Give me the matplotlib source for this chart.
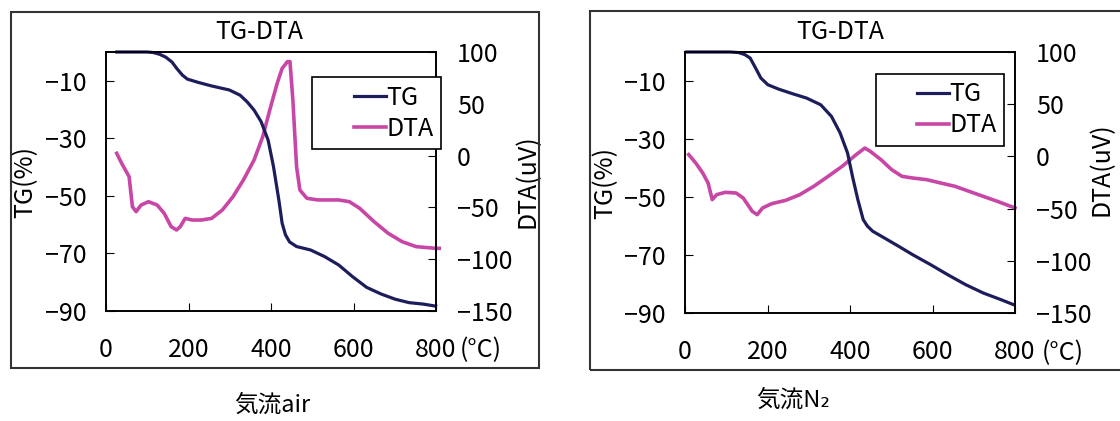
import matplotlib
matplotlib.use("Agg")
import matplotlib.pyplot as plt
from matplotlib.patches import Rectangle
from matplotlib.legend_handler import HandlerLine2D

plt.rcParams['font.family'] = ['Noto Sans CJK JP', 'DejaVu Sans']

# air
air_tg_x = [26, 60, 100, 115, 130, 145, 160, 172, 185, 197, 222, 256, 299, 325, 342, 359, 376,
            393, 406, 419, 427, 435, 445, 462, 496, 530, 564, 598, 632, 667, 701, 735, 769, 799]
air_tg_y = [0, 0, 0, -0.2, -0.8, -1.8, -3.5, -5.8, -8.0, -9.4, -10.5, -11.8, -13.2, -15, -17.3,
            -20.2, -24.2, -30.6, -39.8, -51.4, -59.5, -63.5, -66.0, -67.6, -68.8, -71.1, -74,
            -78.1, -81.8, -84.1, -85.9, -87.1, -87.6, -88.3]
air_dta_x = [26, 38, 56, 64, 73, 85, 103, 124, 141, 158, 171, 180, 192, 209, 231, 256, 282,
             308, 333, 359, 380, 397, 415, 427, 440, 446, 453, 462, 470, 487, 513, 564, 590,
             615, 650, 684, 718, 752, 799, 808]
air_dta_y = [2.2, -7.5, -20.3, -49.3, -54.1, -47.7, -44.5, -47.7, -55.7, -68.6, -71.8, -68.6,
             -60.6, -62.2, -62.2, -60.6, -52.5, -39.6, -23.6, -4.2, 18.3, 44, 69.8, 84.2,
             90.7, 90.7, 53.7, -10.7, -33.2, -41.2, -42.8, -42.8, -44.5, -50.9, -63.8, -75,
             -83.1, -87.9, -89.5, -89.5]

# N2
n2_tg_x = [4, 60, 110, 130, 145, 158, 171, 184, 201, 227, 261, 295, 329, 355, 376, 394, 406,
           419, 432, 442, 455, 483, 518, 552, 595, 637, 680, 723, 766, 796]
n2_tg_y = [0, 0, 0, -0.2, -0.9, -2.1, -5.5, -9, -11.3, -12.8, -14.4, -15.9, -18.2, -22.2,
           -27.9, -34.8, -42.9, -50.9, -57.8, -60.0, -61.8, -64.1, -67, -69.9, -73.3, -76.8,
           -80.2, -83.1, -85.4, -87.1]
n2_dta_x = [9, 26, 43, 56, 66, 77, 98, 124, 141, 163, 175, 188, 210, 244, 278, 312, 347, 381,
            415, 436, 449, 475, 501, 526, 552, 586, 620, 655, 689, 723, 757, 800]
n2_dta_y = [1.7, -6.3, -15.9, -25.5, -41.4, -36.6, -34.4, -35.1, -39.8, -52.6, -55.8, -49.4,
            -45.3, -42.1, -36.7, -28.7, -19.1, -9.5, 1.7, 8.0, 4.9, -3.1, -12.7, -19.1,
            -20.7, -22.3, -25.5, -28.7, -33.5, -38.3, -43, -49.4]

x_ticks = [0, 200, 400, 600, 800]
tg_ticks = [-90, -70, -50, -30, -10]
dta_ticks = [-150, -100, -50, 0, 50, 100]

TG_COLOR = "#1d1d5c"
DTA_COLOR = "#c847a6"
FS = 18

fig = plt.figure(figsize=(11.2, 4.21), dpi=100)
W, H = 1120, 421

# outer frames
for (x0, y0, x1, y1) in [(10.5, 12, 539, 368), (590, 11, 1130, 370)]:
    fig.patches.append(Rectangle((x0 / W, 1 - y1 / H), (x1 - x0) / W, (y1 - y0) / H,
                                 transform=fig.transFigure, fill=False,
                                 edgecolor="#333333", linewidth=1.5))


def panel(left, bottom, height, tg_x, tg_y, dta_x, dta_y, title_x, caption,
          cap_x, cap_y, tg_lab_x, dta_lab_x, dta_lab_y, degc_x, leg_right, leg_top):
    ax = fig.add_axes([left / W, 1 - bottom / H, 330 / W, height / H])
    ax2 = ax.twinx()
    ax.plot(tg_x, tg_y, color=TG_COLOR, lw=2.3, label="TG", clip_on=False)
    ax2.plot(dta_x, dta_y, color=DTA_COLOR, lw=2.6, label="DTA", clip_on=False)
    ax.set_zorder(ax2.get_zorder() + 1)
    ax.patch.set_visible(False)

    ax.set_xlim(0, 800)
    ax.set_ylim(-90, 0)
    ax2.set_ylim(-150, 100)
    ax.set_xticks(x_ticks)
    ax.set_yticks(tg_ticks)
    ax2.set_yticks(dta_ticks)
    ax.tick_params(axis="x", direction="in", length=6, pad=19, labelsize=FS)
    ax.tick_params(axis="y", direction="in", length=6, pad=14, labelsize=FS)
    ax2.tick_params(axis="y", direction="in", length=6, pad=15, labelsize=FS)
    ax.set_xticklabels([str(t) for t in x_ticks])
    ax.set_yticklabels(["\u2212" + str(-t) for t in tg_ticks])
    ax2.set_yticklabels([("\u2212" + str(-t)) if t < 0 else str(t) for t in dta_ticks])
    for sp in ax.spines.values():
        sp.set_linewidth(1.2)
    for sp in ax2.spines.values():
        sp.set_linewidth(1.2)

    ax.set_ylabel("TG(%)", fontsize=FS)
    ax.yaxis.set_label_coords(tg_lab_x, 0.5)
    ax2.set_ylabel("DTA(uV)", fontsize=FS)
    ax2.yaxis.set_label_coords(dta_lab_x, dta_lab_y)
    ax.text(degc_x, -0.152, "(°C)", transform=ax.transAxes, fontsize=FS,
            ha="left", va="center")

    h1, l1 = ax.get_legend_handles_labels()
    h2, l2 = ax2.get_legend_handles_labels()
    leg = ax.legend(h1 + h2, l1 + l2, loc="upper right",
                    bbox_to_anchor=(leg_right, leg_top),
                    fontsize=FS, fancybox=False, edgecolor="black", framealpha=1,
                    handlelength=2.65, handletextpad=0.0, borderpad=0.3,
                    labelspacing=0.2, borderaxespad=0,
                    handler_map={h: HandlerLine2D(xpad=1.35) for h in h1 + h2})
    leg.get_frame().set_linewidth(1.2)

    fig.text(title_x / W, 1 - 32 / H, "TG-DTA", fontsize=FS, ha="center", va="center")
    fig.text(cap_x / W, 1 - cap_y / H, caption, fontsize=17, ha="center", va="center")


panel(106, 311, 259, air_tg_x, air_tg_y, air_dta_x, air_dta_y, 259,
      "気流air", 272, 405, -0.206, 1.239, 0.5, 1.072, 1.015, 0.903)
panel(685, 313, 261, n2_tg_x, n2_tg_y, n2_dta_x, n2_dta_y, 840,
      "気流N\u2082", 793, 400, -0.203, 1.224, 0.55, 1.08, 0.967, 0.916)

fig.savefig("out.png", dpi=100)
